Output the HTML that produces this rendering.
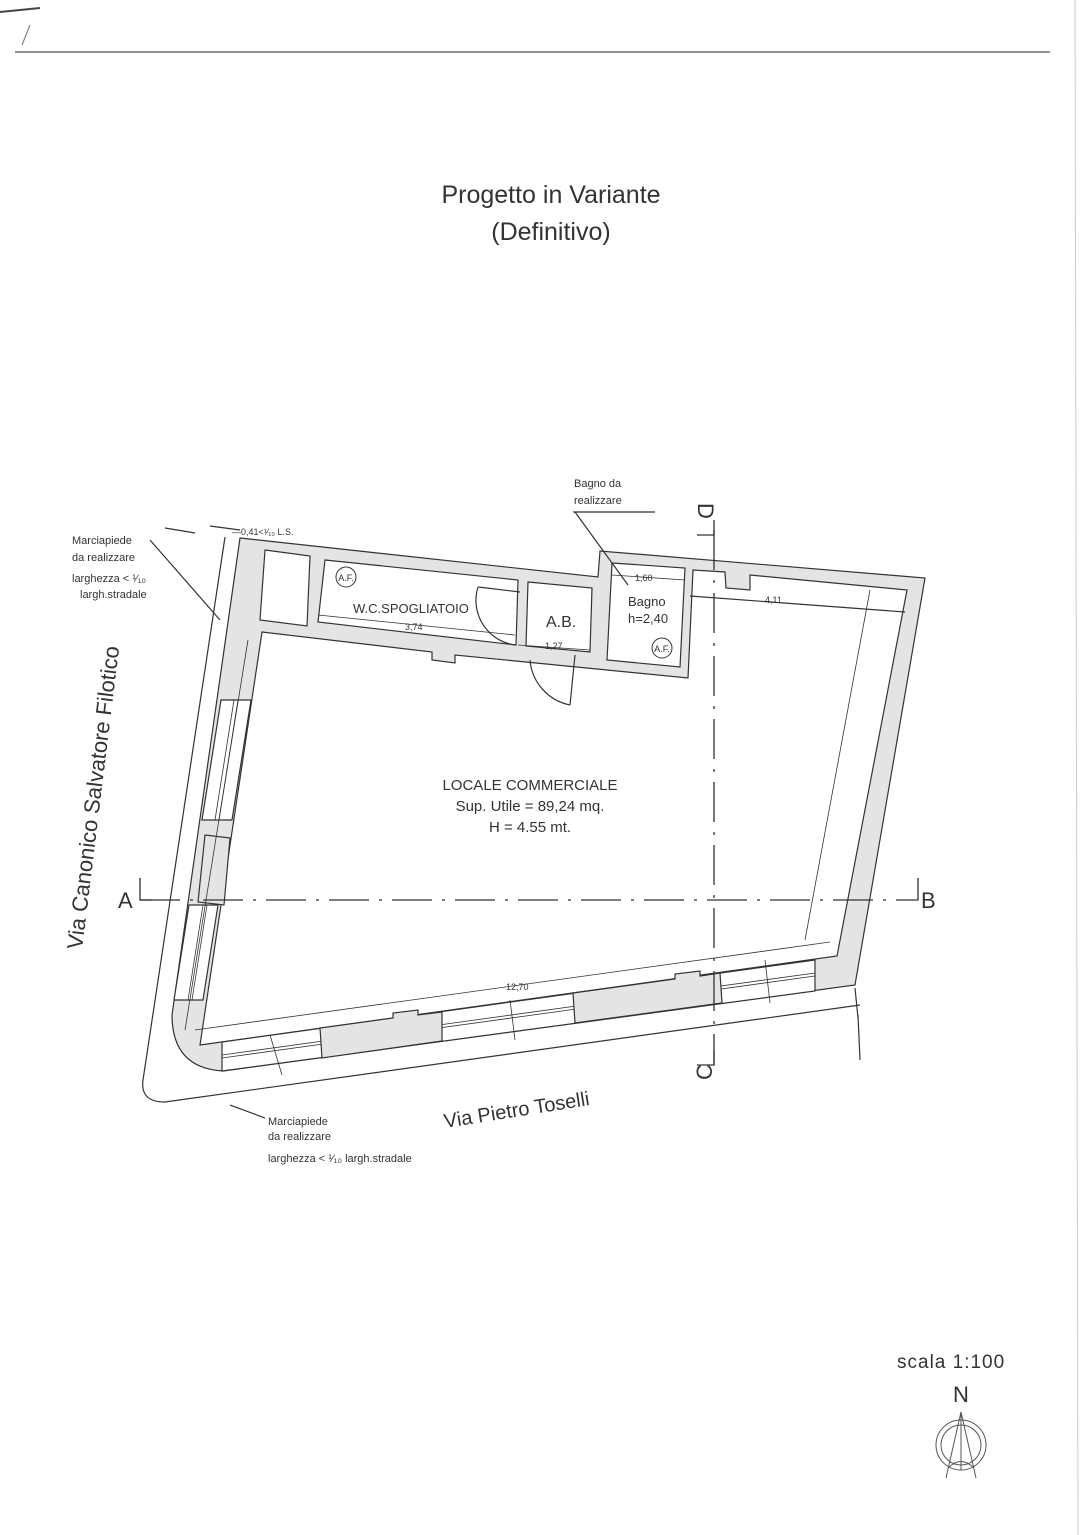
<!DOCTYPE html>
<html><head><meta charset="utf-8"><style>
html,body{margin:0;padding:0;background:#fff}
svg{display:block}
text{font-family:"Liberation Sans",sans-serif;fill:#333}
</style></head><body>
<svg width="1086" height="1535" viewBox="0 0 1086 1535" xmlns="http://www.w3.org/2000/svg">
<line x1="15" y1="52" x2="1050" y2="52" stroke="#555" stroke-width="1.2"/>
<line x1="0" y1="12" x2="40" y2="8" stroke="#444" stroke-width="2"/>
<line x1="30" y1="25" x2="22" y2="45" stroke="#666" stroke-width="1"/>
<line x1="1075" y1="0" x2="1078" y2="1535" stroke="#ccc" stroke-width="1"/>

<text x="551" y="203" font-size="25" text-anchor="middle">Progetto in Variante</text>
<text x="551" y="240" font-size="25" text-anchor="middle">(Definitivo)</text>

<g stroke="#333" stroke-width="1.2" fill="none">
<path d="M225,537 L143,1080 Q140,1102 165,1102 L860,1005"/>
<path d="M240,538 L598,577 L600,551 L925,578 L855,985 L223,1071 Q172,1068 172,1015 Z" fill="#e4e4e4"/>
<path d="M262,632 L432,652 L432,660 L455,663 L455,655 L688,678 L693,570 L725,572 L726,588 L750,590 L750,575 L907,590 L837,956 L200,1045 Z" fill="#fff"/>
<!-- left wall windows -->
<path d="M221,700 L251,700 L232,820 L202,820 Z" fill="#fff"/>
<path d="M189,905 L218,905 L203,1000 L174,1000 Z" fill="#fff"/>
<line x1="234" y1="700" x2="215" y2="820" stroke-width="0.8"/><line x1="238" y1="700" x2="219" y2="820" stroke-width="0.8"/>
<line x1="203" y1="905" x2="188" y2="1000" stroke-width="0.8"/><line x1="207" y1="905" x2="192" y2="1000" stroke-width="0.8"/>
<!-- bottom wall white band -->
<path d="M222,1042 L815,960 L815,991 L222,1071 Z" fill="#fff"/>
<line x1="222" y1="1055" x2="815" y2="973" stroke-width="0.8"/><line x1="222" y1="1058" x2="815" y2="976" stroke-width="0.8"/>
<!-- rooms -->
<path d="M265,550 L310,556 L307,626 L260,620 Z" fill="#fff"/>
<path d="M325,560 L518,580 L516,645 L318,622 Z" fill="#fff"/>
<path d="M528,582 L592,588 L590,652 L526,646 Z" fill="#fff"/>
<path d="M612,563 L685,568 L680,667 L607,660 Z" fill="#fff"/>
<!-- gray window boxes -->
<path d="M320,1028 L393,1018 L393,1013 L418,1010 L418,1015 L442,1012 L442,1041 L322,1058 Z" fill="#e4e4e4"/>
<path d="M573,993 L675,979 L675,974 L700,971 L700,976 L720,973 L722,1003 L575,1023 Z" fill="#e4e4e4"/>
<path d="M205,835 L230,838 L224,905 L198,902 Z" fill="#e4e4e4"/>
<path d="M478,587 L520,592 M478,587 A45,45 0 0 0 515,645"/>
<path d="M575,655 L570,705 M570,705 A50,50 0 0 1 530,660"/>
<line x1="690" y1="596" x2="905" y2="612"/>
<line x1="870" y1="590" x2="805" y2="940" stroke-width="0.8"/>
<line x1="195" y1="1030" x2="830" y2="942" stroke-width="0.8"/>
<line x1="248" y1="640" x2="185" y2="1030" stroke-width="0.8"/>
<line x1="270" y1="1035" x2="282" y2="1075" stroke-width="0.8"/>
<line x1="510" y1="1000" x2="515" y2="1040" stroke-width="0.8"/>
<line x1="765" y1="960" x2="770" y2="1003" stroke-width="0.8"/>
<line x1="318" y1="615" x2="515" y2="635" stroke-width="0.8"/>
<line x1="518" y1="645" x2="590" y2="650" stroke-width="0.8"/>
<line x1="612" y1="575" x2="685" y2="580" stroke-width="0.8"/>
<line x1="150" y1="540" x2="220" y2="620"/>
<line x1="575" y1="512" x2="628" y2="585"/>
<line x1="573" y1="512" x2="655" y2="512"/>
<line x1="230" y1="1105" x2="265" y2="1118"/>
<line x1="165" y1="528" x2="195" y2="533"/>
<line x1="210" y1="526" x2="240" y2="530"/>
<line x1="855" y1="988" x2="858" y2="1018"/>
<line x1="858" y1="1015" x2="860" y2="1060"/>
</g>
<g stroke="#333" stroke-width="1.3" fill="none">
<line x1="140" y1="900" x2="905" y2="900" stroke-dasharray="40,10,3,10"/>
<path d="M140,878 L140,900 L152,900"/>
<path d="M905,900 L918,900 L918,878"/>
<line x1="714" y1="530" x2="714" y2="1065" stroke-dasharray="40,10,3,10"/>
<path d="M697,535 L714,535 L714,520"/>
<path d="M697,1065 L714,1065 L714,1050"/>
</g>
<text x="118" y="908" font-size="22">A</text>
<text x="921" y="908" font-size="22">B</text>
<text x="698" y="515" font-size="22" transform="rotate(90 698 515)" dx="-12">D</text>
<text x="712" y="1080" font-size="22" transform="rotate(-90 712 1080)">C</text>

<g font-size="11">
<text x="72" y="544">Marciapiede</text>
<text x="72" y="561">da realizzare</text>
<text x="72" y="582">larghezza &lt; ¹⁄₁₀</text>
<text x="80" y="598">largh.stradale</text>
<text x="574" y="487">Bagno da</text>
<text x="574" y="504">realizzare</text>
<text x="268" y="1125">Marciapiede</text>
<text x="268" y="1140">da realizzare</text>
<text x="268" y="1162">larghezza &lt; ¹⁄₁₀ largh.stradale</text>
<text x="232" y="535" font-size="9">—0,41&lt;¹⁄₁₀ L.S.</text>
</g>
<g font-size="13">
<text x="353" y="613">W.C.SPOGLIATOIO</text>
<text x="546" y="627" font-size="16">A.B.</text>
<text x="628" y="606">Bagno</text>
<text x="628" y="623">h=2,40</text>
</g>
<g font-size="9">
<text x="405" y="630">3,74</text>
<text x="545" y="649">1,27</text>
<text x="635" y="581">1,60</text>
<text x="765" y="603">4,11</text>
<text x="506" y="990">12,70</text>
</g>
<g fill="none" stroke="#333"><circle cx="346" cy="577" r="10"/><circle cx="662" cy="648" r="10"/></g>
<text x="346" y="581" font-size="9" text-anchor="middle">A.F.</text>
<text x="662" y="652" font-size="9" text-anchor="middle">A.F.</text>

<g font-size="15" text-anchor="middle">
<text x="530" y="790">LOCALE COMMERCIALE</text>
<text x="530" y="811">Sup. Utile = 89,24 mq.</text>
<text x="530" y="832">H = 4.55 mt.</text>
</g>
<text x="0" y="0" font-size="22" transform="translate(82,950) rotate(-83)">Via Canonico Salvatore Filotico</text>
<text x="0" y="0" font-size="20" transform="translate(445,1128) rotate(-9)">Via Pietro Toselli</text>

<text x="897" y="1368" font-size="19" style="letter-spacing:1px">scala 1:100</text>
<text x="961" y="1402" font-size="22" text-anchor="middle" fill="#222">N</text>
<g fill="none" stroke="#555" stroke-width="1">
<circle cx="961" cy="1445" r="25"/><circle cx="961" cy="1445" r="20"/>
<path d="M961,1412 L946,1478 M961,1412 L976,1478 M961,1412 L961,1470 M948,1468 Q961,1455 974,1468"/>
</g>
</svg>
</body></html>
